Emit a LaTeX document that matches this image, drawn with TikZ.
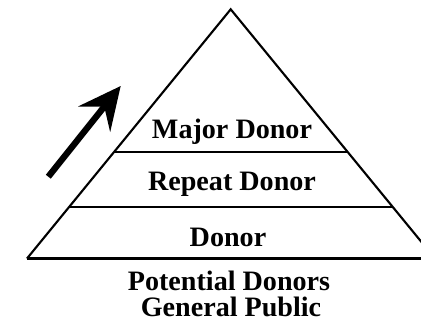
\documentclass[tikz,border=0pt]{standalone}
\usepackage{fontspec}
\setmainfont{Liberation Serif}
\usetikzlibrary{arrows.meta}
\tikzset{every path/.style={black,line width=1.2pt}, level/.style={font=\bfseries\fontsize{16}{13}\selectfont, anchor=base, inner sep=0pt}}

\begin{document}
\begin{tikzpicture}[x=0.02cm,y=-0.02cm]
  \useasboundingbox (0,0) rectangle (421,321);

  \coordinate (top) at (230.7, 9.3);
  \coordinate (bl)  at ( 27.0,258.5);
  \coordinate (br)  at (435.0,258.5);
  \coordinate (ml)  at (114.5,152.0);
  \coordinate (mr)  at (347.0,152.0);
  \coordinate (ll)  at ( 69.5,207.0);
  \coordinate (lr)  at (392.0,207.0);
  \coordinate (tail) at ( 48.3,176.7);
  \coordinate (tip)  at (120.7, 86.0);

  \draw (bl) -- (top) -- (br);
  \draw (bl) -- (br);
  \draw (ml) -- (mr);
  \draw (ll) -- (lr);

  \node[level] (major)  at (232,138) {Major Donor};
  \node[level] (repeat) at (232,190) {Repeat Donor};
  \node[level] (donor)  at (228,246) {Donor};
  \node[level] (potential) at (229,290) {Potential Donors};
  \node[level] (public)    at (231,316) {General Public};

  \draw[line width=3.6pt, -{Stealth[length=24pt,width=23pt,inset=9pt]}] (tail) -- (tip);
\end{tikzpicture}
\end{document}
